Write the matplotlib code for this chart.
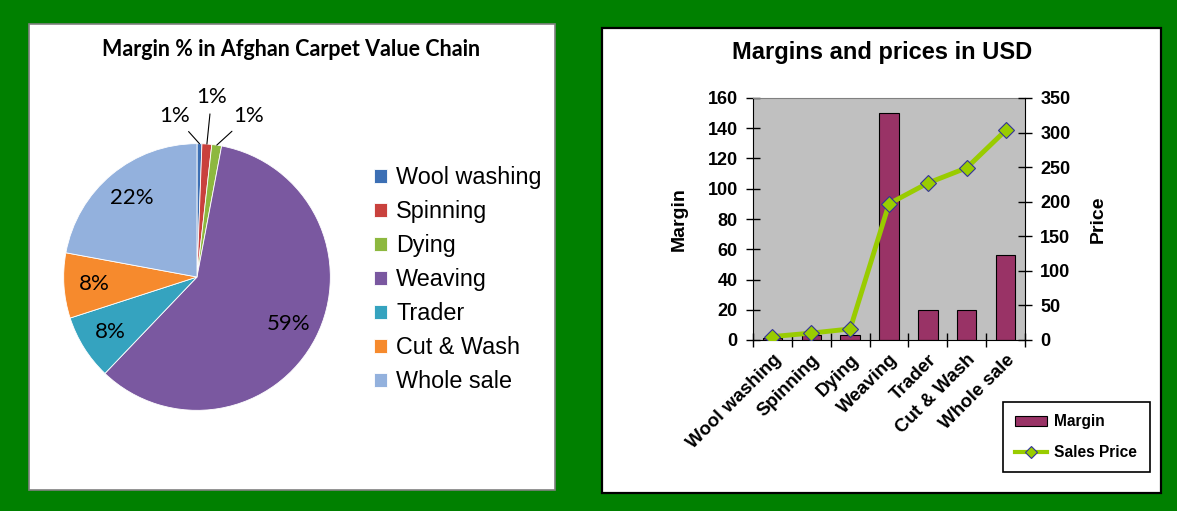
import numpy as np
import matplotlib
matplotlib.use('Agg')
import matplotlib.pyplot as plt
from matplotlib.patches import Rectangle, Patch
from matplotlib.lines import Line2D

# data
stages = ['Wool washing', 'Spinning', 'Dying', 'Weaving', 'Trader', 'Cut & Wash', 'Whole sale']
margin = [1.5, 3, 3, 150, 20, 20, 56]
sales_price = [5, 10, 16, 197, 227, 249, 303]
margin_ticks = [0, 20, 40, 60, 80, 100, 120, 140, 160]
price_ticks = [0, 50, 100, 150, 200, 250, 300, 350]

pie_colors = ['#3C6FB4', '#C9413D', '#8DB83F', '#7A58A0', '#35A3BF', '#F68A2D', '#93B1DD']
# where the small-slice labels go (radius units, relative to pie centre)
small_label_pos = {0: (-0.17, 1.21), 1: (0.11, 1.35), 2: (0.39, 1.21)}

W, H = 1177, 511
fig = plt.figure(figsize=(W / 100, H / 100), dpi=100, facecolor='#008000')


def px(x, y, w, h):
    """pixel box (top-left origin) -> figure rect"""
    return [x / W, 1 - (y + h) / H, w / W, h / H]


# white panels
for (x0, y0, w, h), ec, lw in [((29, 24, 526, 466), '#808080', 1.2),
                               ((602, 28, 559, 465), 'black', 1.6)]:
    r = px(x0, y0, w, h)
    fig.add_artist(Rectangle((r[0], r[1]), r[2], r[3], transform=fig.transFigure,
                             facecolor='white', edgecolor=ec, linewidth=lw, zorder=-5))

# ---------------- pie ----------------
pie_font = 'Lato'
axp = fig.add_axes(px(197 - 200, 277 - 200, 400, 400))
wedges, _ = axp.pie(margin, colors=pie_colors, startangle=90, counterclock=False,
                    radius=1, wedgeprops=dict(edgecolor='white', linewidth=0.6))
axp.set_xlim(-1.5, 1.5)
axp.set_ylim(-1.5, 1.5)
axp.set_aspect('equal')
axp.axis('off')

share = np.array(margin) / np.sum(margin) * 100
for i, wdg in enumerate(wedges):
    ang = np.deg2rad((wdg.theta1 + wdg.theta2) / 2)
    lab = '%d%%' % round(share[i])
    if i in small_label_pos:
        tx, ty = small_label_pos[i]
        axp.annotate(lab, xy=(np.cos(ang), np.sin(ang)), xytext=(tx, ty),
                     ha='center', va='center', fontsize=16, family=pie_font,
                     arrowprops=dict(arrowstyle='-', color='black', lw=0.8,
                                     shrinkA=3, shrinkB=0))
    else:
        axp.text(0.77 * np.cos(ang), 0.77 * np.sin(ang), lab, ha='center', va='center',
                 fontsize=16, family=pie_font)

fig.text(291 / W, 1 - 50 / H, 'Margin % in Afghan Carpet Value Chain', ha='center',
         va='center', fontsize=15.5, fontweight='bold', family=pie_font)

fig.legend(wedges, stages, loc='upper left', bbox_to_anchor=(374 / W, 1 - 166 / H),
           frameon=False, prop=dict(family='Liberation Sans', size=16.8),
           handlelength=0.55, handleheight=0.55, handletextpad=0.4, labelspacing=0.47,
           borderaxespad=0, borderpad=0)

# ---------------- bar + line ----------------
bfont = 'Liberation Sans'
x = np.arange(len(stages))
ax = fig.add_axes(px(753, 98, 272, 242))
ax.set_facecolor('#C0C0C0')
ax.bar(x, margin, width=0.5, color='#993366', edgecolor='black', linewidth=0.8, zorder=2)
ax.set_xlim(-0.5, len(stages) - 0.5)
ax.set_ylim(0, 160)
ax.set_yticks(margin_ticks)
ax.set_xticks(x)
ax.set_xticklabels(stages, rotation=45, ha='right', va='top', rotation_mode='anchor',
                   fontsize=13.5, fontweight='bold', family=bfont)
ax.set_xticks(np.arange(-0.5, len(stages), 1), minor=True)
ax.tick_params(axis='x', which='major', length=0, pad=8)
ax.tick_params(axis='x', which='minor', direction='inout', length=10, width=1)
ax.tick_params(axis='y', direction='inout', length=10, width=1, pad=6)
for t in ax.get_yticklabels():
    t.set_fontsize(13)
    t.set_fontweight('bold')
    t.set_family(bfont)
ax.spines['top'].set_color('#808080')
ax.spines['right'].set_visible(False)
ax.set_ylabel('Margin', fontsize=14, fontweight='bold', family=bfont, labelpad=14)

ax2 = ax.twinx()
ax2.plot(x, sales_price, color='#99CC00', lw=3.5, marker='D', ms=8,
         mfc='#99CC00', mec='#333399', mew=0.8, zorder=3)
ax2.set_ylim(0, 350)
ax2.set_yticks(price_ticks)
ax2.tick_params(axis='y', direction='inout', length=10, width=1, pad=6)
for t in ax2.get_yticklabels():
    t.set_fontsize(13)
    t.set_fontweight('bold')
    t.set_family(bfont)
for s in ['top', 'left', 'bottom']:
    ax2.spines[s].set_visible(False)
ax2.set_ylabel('Price', fontsize=14, fontweight='bold', family=bfont, labelpad=14)

fig.text(882 / W, 1 - 52 / H, 'Margins and prices in USD', ha='center', va='center',
         fontsize=17, fontweight='bold', family=bfont)

handles = [Patch(facecolor='#993366', edgecolor='black', linewidth=0.8),
           Line2D([], [], color='#99CC00', lw=3, marker='D', ms=6,
                  mfc='#99CC00', mec='#333399', mew=0.8)]
leg = fig.legend(handles, ['Margin', 'Sales Price'], loc='upper left',
                 bbox_to_anchor=(1003 / W, 1 - 402 / H), fancybox=False,
                 edgecolor='black', framealpha=1, borderaxespad=0,
                 prop=dict(family=bfont, size=11.2, weight='bold'),
                 handlelength=2.0, handletextpad=0.5, labelspacing=1.0, borderpad=0.8)
leg.get_frame().set_linewidth(1.2)

fig.savefig('out.png', dpi=100, facecolor=fig.get_facecolor())
